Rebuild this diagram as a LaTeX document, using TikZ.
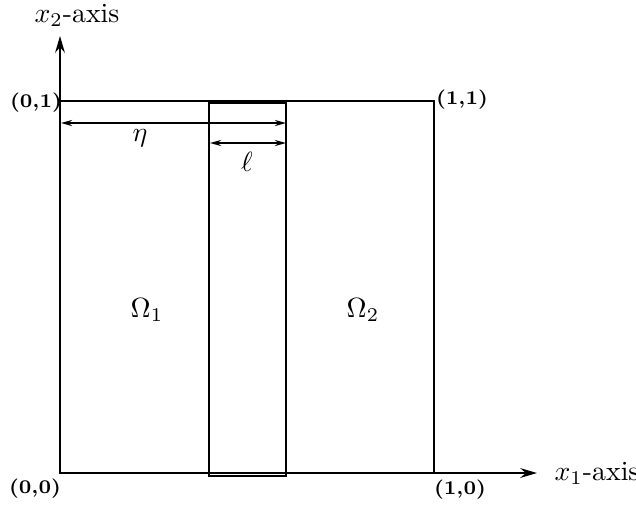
\documentclass[tikz,border=0pt]{standalone}
\usetikzlibrary{arrows.meta, positioning}

\begin{document}
\begin{tikzpicture}[
    x=0.36pt, y=-0.36pt,
    region/.style={draw=black, line width=0.9pt},
    axis/.style={-{Stealth[length=6pt, width=3.5pt]}, line width=0.7pt},
    dim/.style={{Stealth[length=4pt, width=2.2pt]}-{Stealth[length=4pt, width=2.2pt]}, line width=0.6pt},
    corner/.style={font=\scriptsize\bfseries, inner sep=0pt},
    axislabel/.style={inner sep=0pt},
    sublabel/.style={inner sep=0pt}
]
\useasboundingbox (0,0) rectangle (636,508);

% Unit square and strip
\coordinate (o) at (60,473);
\coordinate (e1) at (434,473);
\coordinate (e2) at (60,101);
\coordinate (c11) at (434,101);
\coordinate (sbl) at (209,476);
\coordinate (str) at (286,103);
\draw[region] (o) rectangle (c11);
\draw[region] (sbl) rectangle (str);

% Axes
\coordinate (x1end) at (537,473);
\coordinate (x2end) at (60,36);
\draw[axis] (o) -- (x1end);
\draw[axis] (o) -- (x2end);
\node[axislabel] (x1lab) at (597,473) {$x_1$-axis};
\node[axislabel] (x2lab) at (77,15) {$x_2$-axis};

% Corner labels
\node[corner] (l00) at (35,489) {(0,0)};
\node[corner] (l10) at (460,490) {(1,0)};
\node[corner] (l01) at (36,103) {(0,1)};
\node[corner] (l11) at (462,100) {(1,1)};

% Widths
\coordinate (etaL) at (61,123);
\coordinate (etaR) at (286,123);
\coordinate (ellL) at (210,143);
\coordinate (ellR) at (286,143);
\draw[dim] (etaL) -- (etaR);
\draw[dim] (ellL) -- (ellR);
\node (eta) at (140,138) {$\eta$};
\node (ell) at (247,162) {$\ell$};

% Subdomains
\node[sublabel] (om1) at (147,310) {$\Omega_1$};
\node[sublabel] (om2) at (363,310) {$\Omega_2$};

\end{tikzpicture}
\end{document}
